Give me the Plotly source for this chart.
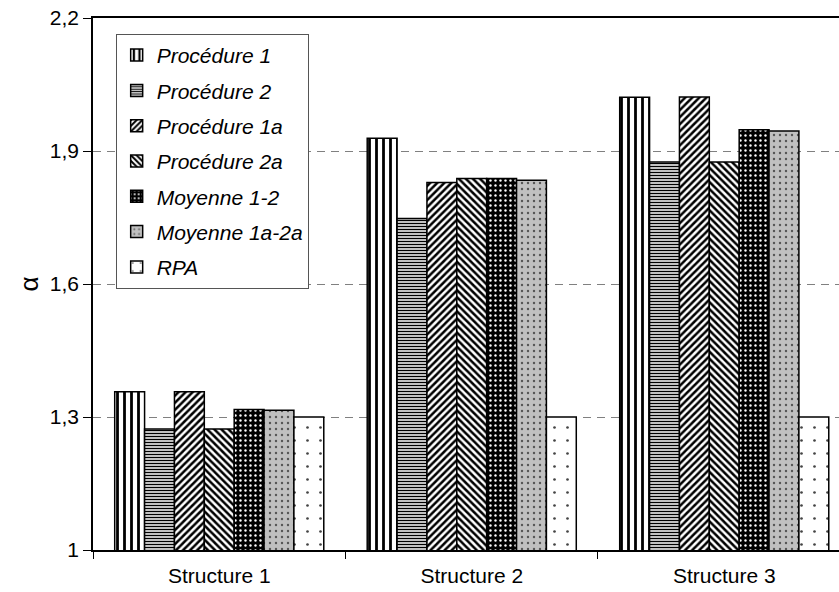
import plotly.graph_objects as go

categories = ["Structure 1", "Structure 2", "Structure 3"]
series_names = ["Procédure 1", "Procédure 2", "Procédure 1a", "Procédure 2a",
                "Moyenne 1-2", "Moyenne 1a-2a", "RPA"]
proc1 = [1.357, 1.929, 2.021]
proc2 = [1.273, 1.748, 1.875]
proc1a = [1.357, 1.829, 2.022]
proc2a = [1.273, 1.838, 1.875]
moy12 = [1.317, 1.838, 1.948]
moy1a2a = [1.315, 1.834, 1.945]
rpa = [1.3, 1.3, 1.3]
y_ticks = [1, 1.3, 1.6, 1.9, 2.2]

values = [proc1, proc2, proc1a, proc2a, moy12, moy1a2a, rpa]
patterns = [
    dict(shape="|", fgcolor="black", bgcolor="white", size=7, solidity=0.4),
    dict(shape="-", fgcolor="black", bgcolor="white", size=3, solidity=0.5),
    dict(shape="/", fgcolor="black", bgcolor="white", size=5, solidity=0.5),
    dict(shape="\\", fgcolor="black", bgcolor="white", size=5, solidity=0.5),
    dict(shape=".", fgcolor="white", bgcolor="black", size=5, solidity=0.18),
    dict(shape=".", fgcolor="#555555", bgcolor="#c0c0c0", size=6, solidity=0.12),
    dict(shape=".", fgcolor="#444444", bgcolor="white", size=13, solidity=0.035),
]

fig = go.Figure()
for i, (name, vals, pat) in enumerate(zip(series_names, values, patterns)):
    fig.add_trace(go.Bar(
        x=categories, y=vals, name=name, legendgroup=f"g{i}",
        marker=dict(color=pat["bgcolor"], pattern=dict(fillmode="replace", **pat),
                    line=dict(color="black", width=1.5)),
    ))

font_family = "Liberation Sans"
fig.update_layout(
    width=839, height=592,
    margin=dict(l=93, r=0, t=18, b=42),
    paper_bgcolor="white", plot_bgcolor="white",
    barmode="group", bargap=0.172, bargroupgap=0,
    separators=", ",
    font=dict(family=font_family, size=21, color="black"),
    showlegend=True,
    legend=dict(
        x=0.0304, y=0.970, xanchor="left", yanchor="top",
        bgcolor="white", bordercolor="#555555", borderwidth=1,
        font=dict(family=font_family, size=21, style="italic"),
        tracegroupgap=5, traceorder="grouped",
        itemwidth=30,
    ),
    xaxis=dict(
        range=[-0.5, 2.4545], showline=True, linecolor="black", linewidth=1.5,
        mirror=True, ticks="outside", tickson="boundaries", ticklen=7,
        tickcolor="black", showgrid=False, tickfont=dict(size=21),
        ticklabelstandoff=6,
    ),
    yaxis=dict(
        range=[1, 2.2], tickvals=y_ticks, showline=True, linecolor="black",
        linewidth=1.5, ticks="outside", ticklen=8, tickcolor="black",
        showgrid=True, gridcolor="#808080", gridwidth=1, griddash="8px,6px",
        zeroline=False, tickfont=dict(size=21),
        title=dict(text="α", font=dict(size=26), standoff=4),
    ),
)

fig.write_html("out.html")
